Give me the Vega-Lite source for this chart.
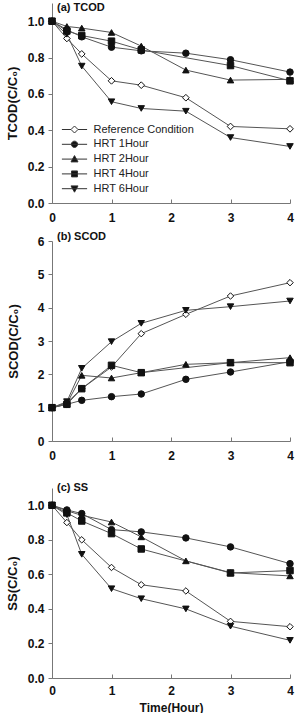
{
  "$schema": "https://vega.github.io/schema/vega-lite/v6.json",
  "padding": {"left": 6, "top": 2, "right": 0, "bottom": 0},
  "spacing": 7,
  "config": {
    "font": "Liberation Sans",
    "view": {"stroke": null},
    "axis": {
      "grid": false,
      "domainColor": "#777",
      "tickColor": "#777",
      "labelFont": "Liberation Sans",
      "labelFontWeight": "bold",
      "labelFontSize": 12,
      "labelColor": "#111",
      "titleFont": "Liberation Sans",
      "titleFontWeight": "bold",
      "titleFontSize": 13,
      "titleColor": "#111"
    },
    "axisX": {"tickSize": -4, "labelPadding": 13.5, "labelAngle": 0, "labelFlush": false},
    "axisY": {"tickSize": 4, "labelPadding": 4, "titlePadding": 8, "labelFlush": false},
    "title": {"anchor": "start", "frame": "group", "orient": "top", "dx": 5, "baseline": "middle", "fontSize": 11, "fontWeight": "bold", "color": "#111", "font": "Liberation Sans"}
  },
  "data": {
    "values": [
      {"panel": "TCOD", "series": "Reference Condition", "t": 0, "v": 1.0},
      {"panel": "TCOD", "series": "Reference Condition", "t": 0.25, "v": 0.905},
      {"panel": "TCOD", "series": "Reference Condition", "t": 0.5, "v": 0.82},
      {"panel": "TCOD", "series": "Reference Condition", "t": 1, "v": 0.672},
      {"panel": "TCOD", "series": "Reference Condition", "t": 1.5, "v": 0.648},
      {"panel": "TCOD", "series": "Reference Condition", "t": 2.25, "v": 0.579},
      {"panel": "TCOD", "series": "Reference Condition", "t": 3, "v": 0.421},
      {"panel": "TCOD", "series": "Reference Condition", "t": 4, "v": 0.408},
      {"panel": "TCOD", "series": "HRT 1Hour", "t": 0, "v": 1.0},
      {"panel": "TCOD", "series": "HRT 1Hour", "t": 0.25, "v": 0.953},
      {"panel": "TCOD", "series": "HRT 1Hour", "t": 0.5, "v": 0.914},
      {"panel": "TCOD", "series": "HRT 1Hour", "t": 1, "v": 0.857},
      {"panel": "TCOD", "series": "HRT 1Hour", "t": 1.5, "v": 0.837},
      {"panel": "TCOD", "series": "HRT 1Hour", "t": 2.25, "v": 0.824},
      {"panel": "TCOD", "series": "HRT 1Hour", "t": 3, "v": 0.788},
      {"panel": "TCOD", "series": "HRT 1Hour", "t": 4, "v": 0.72},
      {"panel": "TCOD", "series": "HRT 2Hour", "t": 0, "v": 1.0},
      {"panel": "TCOD", "series": "HRT 2Hour", "t": 0.25, "v": 0.971},
      {"panel": "TCOD", "series": "HRT 2Hour", "t": 0.5, "v": 0.962},
      {"panel": "TCOD", "series": "HRT 2Hour", "t": 1, "v": 0.938},
      {"panel": "TCOD", "series": "HRT 2Hour", "t": 1.5, "v": 0.863},
      {"panel": "TCOD", "series": "HRT 2Hour", "t": 2.25, "v": 0.731},
      {"panel": "TCOD", "series": "HRT 2Hour", "t": 3, "v": 0.676},
      {"panel": "TCOD", "series": "HRT 2Hour", "t": 4, "v": 0.68},
      {"panel": "TCOD", "series": "HRT 4Hour", "t": 0, "v": 1.0},
      {"panel": "TCOD", "series": "HRT 4Hour", "t": 0.25, "v": 0.946},
      {"panel": "TCOD", "series": "HRT 4Hour", "t": 0.5, "v": 0.921},
      {"panel": "TCOD", "series": "HRT 4Hour", "t": 1, "v": 0.89},
      {"panel": "TCOD", "series": "HRT 4Hour", "t": 1.5, "v": 0.842},
      {"panel": "TCOD", "series": "HRT 4Hour", "t": 3, "v": 0.756},
      {"panel": "TCOD", "series": "HRT 4Hour", "t": 4, "v": 0.672},
      {"panel": "TCOD", "series": "HRT 6Hour", "t": 0, "v": 1.0},
      {"panel": "TCOD", "series": "HRT 6Hour", "t": 0.25, "v": 0.928},
      {"panel": "TCOD", "series": "HRT 6Hour", "t": 0.5, "v": 0.753},
      {"panel": "TCOD", "series": "HRT 6Hour", "t": 1, "v": 0.557},
      {"panel": "TCOD", "series": "HRT 6Hour", "t": 1.5, "v": 0.52},
      {"panel": "TCOD", "series": "HRT 6Hour", "t": 2.25, "v": 0.505},
      {"panel": "TCOD", "series": "HRT 6Hour", "t": 3, "v": 0.36},
      {"panel": "TCOD", "series": "HRT 6Hour", "t": 4, "v": 0.311},

      {"panel": "SCOD", "series": "Reference Condition", "t": 0, "v": 1.0},
      {"panel": "SCOD", "series": "Reference Condition", "t": 0.25, "v": 1.15},
      {"panel": "SCOD", "series": "Reference Condition", "t": 0.5, "v": 1.57},
      {"panel": "SCOD", "series": "Reference Condition", "t": 1, "v": 2.22},
      {"panel": "SCOD", "series": "Reference Condition", "t": 1.5, "v": 3.22},
      {"panel": "SCOD", "series": "Reference Condition", "t": 2.25, "v": 3.8},
      {"panel": "SCOD", "series": "Reference Condition", "t": 3, "v": 4.35},
      {"panel": "SCOD", "series": "Reference Condition", "t": 4, "v": 4.75},
      {"panel": "SCOD", "series": "HRT 1Hour", "t": 0, "v": 1.0},
      {"panel": "SCOD", "series": "HRT 1Hour", "t": 0.25, "v": 1.1},
      {"panel": "SCOD", "series": "HRT 1Hour", "t": 0.5, "v": 1.22},
      {"panel": "SCOD", "series": "HRT 1Hour", "t": 1, "v": 1.33},
      {"panel": "SCOD", "series": "HRT 1Hour", "t": 1.5, "v": 1.41},
      {"panel": "SCOD", "series": "HRT 1Hour", "t": 2.25, "v": 1.85},
      {"panel": "SCOD", "series": "HRT 1Hour", "t": 3, "v": 2.07},
      {"panel": "SCOD", "series": "HRT 1Hour", "t": 4, "v": 2.38},
      {"panel": "SCOD", "series": "HRT 2Hour", "t": 0, "v": 1.0},
      {"panel": "SCOD", "series": "HRT 2Hour", "t": 0.25, "v": 1.12},
      {"panel": "SCOD", "series": "HRT 2Hour", "t": 0.5, "v": 1.97},
      {"panel": "SCOD", "series": "HRT 2Hour", "t": 1, "v": 1.89},
      {"panel": "SCOD", "series": "HRT 2Hour", "t": 1.5, "v": 2.05},
      {"panel": "SCOD", "series": "HRT 2Hour", "t": 2.25, "v": 2.3},
      {"panel": "SCOD", "series": "HRT 2Hour", "t": 3, "v": 2.35},
      {"panel": "SCOD", "series": "HRT 2Hour", "t": 4, "v": 2.5},
      {"panel": "SCOD", "series": "HRT 4Hour", "t": 0, "v": 1.0},
      {"panel": "SCOD", "series": "HRT 4Hour", "t": 0.25, "v": 1.1},
      {"panel": "SCOD", "series": "HRT 4Hour", "t": 0.5, "v": 1.57},
      {"panel": "SCOD", "series": "HRT 4Hour", "t": 1, "v": 2.27},
      {"panel": "SCOD", "series": "HRT 4Hour", "t": 1.5, "v": 2.05},
      {"panel": "SCOD", "series": "HRT 4Hour", "t": 3, "v": 2.35},
      {"panel": "SCOD", "series": "HRT 4Hour", "t": 4, "v": 2.35},
      {"panel": "SCOD", "series": "HRT 6Hour", "t": 0, "v": 1.0},
      {"panel": "SCOD", "series": "HRT 6Hour", "t": 0.25, "v": 1.18},
      {"panel": "SCOD", "series": "HRT 6Hour", "t": 0.5, "v": 2.18},
      {"panel": "SCOD", "series": "HRT 6Hour", "t": 1, "v": 2.98},
      {"panel": "SCOD", "series": "HRT 6Hour", "t": 1.5, "v": 3.53},
      {"panel": "SCOD", "series": "HRT 6Hour", "t": 2.25, "v": 3.92},
      {"panel": "SCOD", "series": "HRT 6Hour", "t": 3, "v": 4.03},
      {"panel": "SCOD", "series": "HRT 6Hour", "t": 4, "v": 4.2},

      {"panel": "SS", "series": "Reference Condition", "t": 0, "v": 1.0},
      {"panel": "SS", "series": "Reference Condition", "t": 0.25, "v": 0.9},
      {"panel": "SS", "series": "Reference Condition", "t": 0.5, "v": 0.8},
      {"panel": "SS", "series": "Reference Condition", "t": 1, "v": 0.64},
      {"panel": "SS", "series": "Reference Condition", "t": 1.5, "v": 0.54},
      {"panel": "SS", "series": "Reference Condition", "t": 2.25, "v": 0.504},
      {"panel": "SS", "series": "Reference Condition", "t": 3, "v": 0.328},
      {"panel": "SS", "series": "Reference Condition", "t": 4, "v": 0.297},
      {"panel": "SS", "series": "HRT 1Hour", "t": 0, "v": 1.0},
      {"panel": "SS", "series": "HRT 1Hour", "t": 0.25, "v": 0.973},
      {"panel": "SS", "series": "HRT 1Hour", "t": 0.5, "v": 0.952},
      {"panel": "SS", "series": "HRT 1Hour", "t": 1, "v": 0.859},
      {"panel": "SS", "series": "HRT 1Hour", "t": 1.5, "v": 0.846},
      {"panel": "SS", "series": "HRT 1Hour", "t": 2.25, "v": 0.811},
      {"panel": "SS", "series": "HRT 1Hour", "t": 3, "v": 0.759},
      {"panel": "SS", "series": "HRT 1Hour", "t": 4, "v": 0.662},
      {"panel": "SS", "series": "HRT 2Hour", "t": 0, "v": 1.0},
      {"panel": "SS", "series": "HRT 2Hour", "t": 0.25, "v": 0.968},
      {"panel": "SS", "series": "HRT 2Hour", "t": 0.5, "v": 0.942},
      {"panel": "SS", "series": "HRT 2Hour", "t": 1, "v": 0.903},
      {"panel": "SS", "series": "HRT 2Hour", "t": 1.5, "v": 0.817},
      {"panel": "SS", "series": "HRT 2Hour", "t": 2.25, "v": 0.678},
      {"panel": "SS", "series": "HRT 2Hour", "t": 3, "v": 0.61},
      {"panel": "SS", "series": "HRT 2Hour", "t": 4, "v": 0.591},
      {"panel": "SS", "series": "HRT 4Hour", "t": 0, "v": 1.0},
      {"panel": "SS", "series": "HRT 4Hour", "t": 0.25, "v": 0.956},
      {"panel": "SS", "series": "HRT 4Hour", "t": 0.5, "v": 0.909},
      {"panel": "SS", "series": "HRT 4Hour", "t": 1, "v": 0.836},
      {"panel": "SS", "series": "HRT 4Hour", "t": 1.5, "v": 0.747},
      {"panel": "SS", "series": "HRT 4Hour", "t": 3, "v": 0.608},
      {"panel": "SS", "series": "HRT 4Hour", "t": 4, "v": 0.622},
      {"panel": "SS", "series": "HRT 6Hour", "t": 0, "v": 1.0},
      {"panel": "SS", "series": "HRT 6Hour", "t": 0.25, "v": 0.946},
      {"panel": "SS", "series": "HRT 6Hour", "t": 0.5, "v": 0.716},
      {"panel": "SS", "series": "HRT 6Hour", "t": 1, "v": 0.517},
      {"panel": "SS", "series": "HRT 6Hour", "t": 1.5, "v": 0.459},
      {"panel": "SS", "series": "HRT 6Hour", "t": 2.25, "v": 0.4},
      {"panel": "SS", "series": "HRT 6Hour", "t": 3, "v": 0.3},
      {"panel": "SS", "series": "HRT 6Hour", "t": 4, "v": 0.218}
    ]
  },
  "vconcat": [
    {
      "transform": [{"filter": "datum.panel === 'TCOD'"}],
      "width": 238,
      "height": 200,
      "title": {"text": "(a) TCOD", "offset": -10},
      "encoding": {
        "x": {"field": "t", "type": "quantitative", "scale": {"domain": [0, 4]}, "axis": {"values": [0, 1, 2, 3, 4], "format": "d", "title": null, "labelOverlap": false}},
        "y": {"field": "v", "type": "quantitative", "scale": {"domain": [0, 1.1]}, "axis": {"values": [0, 0.2, 0.4, 0.6, 0.8, 1.0], "format": ".1f", "title": "TCOD(C/C₀)", "labelOverlap": false}}
      },
      "layer": [
        {"mark": {"type": "line", "strokeWidth": 1, "color": "#555"}, "encoding": {"detail": {"field": "series"}}},
        {"transform": [{"filter": "datum.series === 'Reference Condition'"}], "mark": {"type": "point", "shape": "diamond", "filled": true, "fill": "#ffffff", "stroke": "#111", "strokeWidth": 1, "size": 45, "opacity": 1}},
        {"transform": [{"filter": "datum.series === 'HRT 1Hour'"}], "mark": {"type": "point", "shape": "circle", "filled": true, "fill": "#111", "stroke": "#111", "strokeWidth": 1, "size": 42, "opacity": 1}},
        {"transform": [{"filter": "datum.series === 'HRT 2Hour'"}], "mark": {"type": "point", "shape": "triangle-up", "filled": true, "fill": "#111", "stroke": "#111", "strokeWidth": 1, "size": 42, "opacity": 1}},
        {"transform": [{"filter": "datum.series === 'HRT 4Hour'"}], "mark": {"type": "point", "shape": "square", "filled": true, "fill": "#111", "stroke": "#111", "strokeWidth": 1, "size": 42, "opacity": 1}},
        {"transform": [{"filter": "datum.series === 'HRT 6Hour'"}], "mark": {"type": "point", "shape": "triangle-down", "filled": true, "fill": "#111", "stroke": "#111", "strokeWidth": 1, "size": 42, "opacity": 1}},
        {
          "transform": [{"filter": "false"}],
          "mark": {"type": "point", "filled": true, "size": 49, "strokeWidth": 1, "opacity": 1},
          "encoding": {
            "shape": {
              "field": "series",
              "scale": {
                "domain": ["Reference Condition", "HRT 1Hour", "HRT 2Hour", "HRT 4Hour", "HRT 6Hour"],
                "range": [
                  "M-3.6,0H-1M1,0H3.6M0,-1L1,0L0,1L-1,0Z",
                  "M-3.6,0H3.6M-0.9,0A0.9,0.9 0 1,0 0.9,0A0.9,0.9 0 1,0 -0.9,0Z",
                  "M-3.6,0H3.6M0,-1L1,0.8L-1,0.8Z",
                  "M-3.6,0H3.6M-0.85,-0.85H0.85V0.85H-0.85Z",
                  "M-3.6,0H3.6M0,1L1,-0.8L-1,-0.8Z"
                ]
              },
              "legend": {
                "title": null, "orient": "none", "legendX": 17, "legendY": 121, "padding": 0,
                "symbolSize": 49, "symbolStrokeWidth": 1,
                "labelFont": "Liberation Sans", "labelFontSize": 11, "labelFontWeight": "normal", "labelColor": "#222",
                "labelOffset": 13.5, "rowPadding": 2.8
              }
            },
            "fill": {
              "field": "series",
              "scale": {"domain": ["Reference Condition", "HRT 1Hour", "HRT 2Hour", "HRT 4Hour", "HRT 6Hour"], "range": ["#ffffff", "#111111", "#111111", "#111111", "#111111"]},
              "legend": {
                "title": null, "orient": "none", "legendX": 17, "legendY": 121, "padding": 0,
                "symbolSize": 49, "symbolStrokeWidth": 1,
                "labelFont": "Liberation Sans", "labelFontSize": 11, "labelFontWeight": "normal", "labelColor": "#222",
                "labelOffset": 13.5, "rowPadding": 2.8
              }
            },
            "stroke": {
              "field": "series",
              "scale": {"domain": ["Reference Condition", "HRT 1Hour", "HRT 2Hour", "HRT 4Hour", "HRT 6Hour"], "range": ["#333333", "#333333", "#333333", "#333333", "#333333"]},
              "legend": {
                "title": null, "orient": "none", "legendX": 17, "legendY": 121, "padding": 0,
                "symbolSize": 49, "symbolStrokeWidth": 1,
                "labelFont": "Liberation Sans", "labelFontSize": 11, "labelFontWeight": "normal", "labelColor": "#222",
                "labelOffset": 13.5, "rowPadding": 2.8
              }
            }
          }
        }
      ]
    },
    {
      "transform": [{"filter": "datum.panel === 'SCOD'"}],
      "width": 238,
      "height": 200,
      "title": {"text": "(b) SCOD", "offset": -7},
      "encoding": {
        "x": {"field": "t", "type": "quantitative", "scale": {"domain": [0, 4]}, "axis": {"values": [0, 1, 2, 3, 4], "format": "d", "title": " ", "titlePadding": 2, "titleFontSize": 12, "labelOverlap": false}},
        "y": {"field": "v", "type": "quantitative", "scale": {"domain": [0, 6]}, "axis": {"values": [0, 1, 2, 3, 4, 5, 6], "format": "d", "title": "SCOD(C/C₀)", "titlePadding": 17, "labelOverlap": false}}
      },
      "layer": [
        {"mark": {"type": "line", "strokeWidth": 1, "color": "#555"}, "encoding": {"detail": {"field": "series"}}},
        {
          "mark": {"type": "point", "filled": true, "size": 42, "stroke": "#111", "strokeWidth": 1, "opacity": 1},
          "encoding": {
            "shape": {
              "field": "series",
              "scale": {"domain": ["Reference Condition", "HRT 1Hour", "HRT 2Hour", "HRT 4Hour", "HRT 6Hour"], "range": ["diamond", "circle", "triangle-up", "square", "triangle-down"]},
              "legend": null
            },
            "fill": {
              "field": "series",
              "scale": {"domain": ["Reference Condition", "HRT 1Hour", "HRT 2Hour", "HRT 4Hour", "HRT 6Hour"], "range": ["#ffffff", "#111111", "#111111", "#111111", "#111111"]},
              "legend": null
            }
          }
        }
      ]
    },
    {
      "transform": [{"filter": "datum.panel === 'SS'"}],
      "width": 238,
      "height": 190,
      "title": {"text": "(c) SS", "offset": -5},
      "encoding": {
        "x": {"field": "t", "type": "quantitative", "scale": {"domain": [0, 4]}, "axis": {"values": [0, 1, 2, 3, 4], "format": "d", "title": "Time(Hour)", "titleFontSize": 12, "titlePadding": 5.5, "labelPadding": 11.5, "labelOverlap": false}},
        "y": {"field": "v", "type": "quantitative", "scale": {"domain": [0, 1.1]}, "axis": {"values": [0, 0.2, 0.4, 0.6, 0.8, 1.0], "format": ".1f", "title": "SS(C/C₀)", "labelOverlap": false}}
      },
      "layer": [
        {"mark": {"type": "line", "strokeWidth": 1, "color": "#555"}, "encoding": {"detail": {"field": "series"}}},
        {
          "mark": {"type": "point", "filled": true, "size": 42, "stroke": "#111", "strokeWidth": 1, "opacity": 1},
          "encoding": {
            "shape": {
              "field": "series",
              "scale": {"domain": ["Reference Condition", "HRT 1Hour", "HRT 2Hour", "HRT 4Hour", "HRT 6Hour"], "range": ["diamond", "circle", "triangle-up", "square", "triangle-down"]},
              "legend": null
            },
            "fill": {
              "field": "series",
              "scale": {"domain": ["Reference Condition", "HRT 1Hour", "HRT 2Hour", "HRT 4Hour", "HRT 6Hour"], "range": ["#ffffff", "#111111", "#111111", "#111111", "#111111"]},
              "legend": null
            }
          }
        }
      ]
    }
  ],
  "resolve": {"scale": {"shape": "independent", "fill": "independent", "stroke": "independent"}, "legend": {"shape": "independent", "fill": "independent", "stroke": "independent"}}
}
